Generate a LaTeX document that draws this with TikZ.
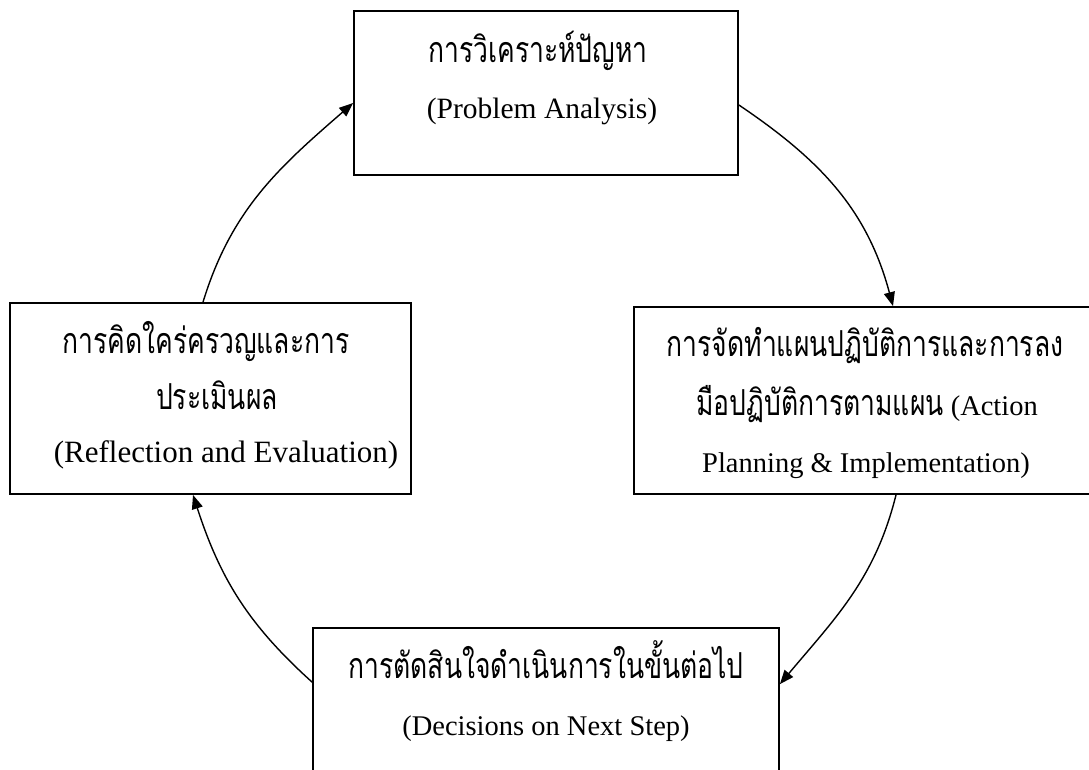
\documentclass[tikz,border=0pt]{standalone}
\usepackage{graphicx}
\usepackage{fontspec}
\setmainfont{Liberation Serif}
\newfontfamily\thai[Script=Thai]{Loma}
\newcommand{\thaitext}[1]{\scalebox{1}[1.35]{\fontsize{26.5}{34}\selectfont\thai #1}}
\usetikzlibrary{arrows.meta,calc}
\tikzset{
  box/.style={draw, line width=1.8pt, rectangle, inner sep=0pt},
  en/.style={inner sep=0pt, anchor=base, font=\fontsize{28.5}{34}\selectfont},
  th/.style={inner sep=0pt, anchor=base},
  conn/.style={line width=1.4pt, -{Triangle[length=14pt,width=11pt]}}
}
\begin{document}
\begin{tikzpicture}[x=1pt,y=1pt]
\clip (0,0) rectangle (1089,-769);
\fill[white] (0,0) rectangle (1089,-769);
% boxes
\node[box, minimum width=384pt, minimum height=164pt] (pa) at (546,-93) {};
\node[box, minimum width=462pt, minimum height=187pt] (ap) at (865,-400.5) {};
\node[box, minimum width=466pt, minimum height=172pt] (ds) at (546,-714) {};
\node[box, minimum width=401pt, minimum height=191pt] (re) at (210.5,-398.5) {};
% texts
\node[th] (pa1) at (538,-62) {\thaitext{การวิเคราะห์ปัญหา}};
\node[en, font=\fontsize{29.5}{34}\selectfont] (pa2) at (542,-118) {(Problem Analysis)};
\node[th] (ap1) at (865,-356) {\thaitext{การจัดทำแผนปฏิบัติการและการลง}};
\node[en] (ap2) at (867,-415) {\thaitext{มือปฏิบัติการตามแผน} (Action};
\node[en] (ap3) at (866,-472) {Planning \& Implementation)};
\node[th] (re1) at (206,-353) {\thaitext{การคิดใคร่ครวญและการ}};
\node[th] (re2) at (217,-409) {\thaitext{ประเมินผล}};
\node[en, font=\fontsize{31}{34}\selectfont] (re3) at (226,-462) {(Reflection and Evaluation)};
\node[th] (ds1) at (546,-678) {\thaitext{การตัดสินใจดำเนินการในขั้นต่อไป}};
\node[en] (ds2) at (546,-735) {(Decisions on Next Step)};
% connectors
\draw[conn] ([yshift=-12pt]pa.east) to[out=-34, in=105] ([xshift=28pt]ap.north);
\draw[conn] ([xshift=31pt]ap.south) to[out=-104, in=50] ([yshift=-57pt]ds.north east);
\draw[conn] ([yshift=-55pt]ds.north west) to[out=138, in=-72] ([xshift=-17.5pt]re.south);
\draw[conn] ([xshift=-7.5pt]re.north) to[out=73, in=-139] ([yshift=-10pt]pa.west);
\end{tikzpicture}
\end{document}
